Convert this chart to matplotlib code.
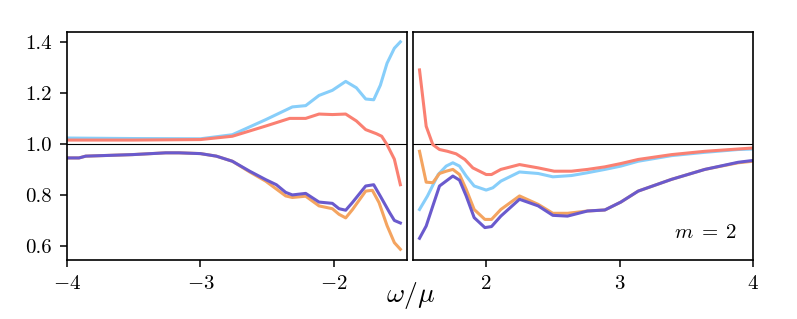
import matplotlib
matplotlib.use("Agg")
import matplotlib.pyplot as plt

plt.rcParams["mathtext.fontset"] = "cm"
plt.rcParams["font.family"] = "serif"
plt.rcParams["font.serif"] = ["cmr10"]
plt.rcParams["axes.formatter.use_mathtext"] = True

# left panel (negative frequencies)
x_blue_l = [-4.0, -3.5, -3.0, -2.76, -2.51, -2.31, -2.21, -2.11, -2.01, -1.91, -1.83, -1.76, -1.70, -1.65, -1.60, -1.545, -1.5]
y_blue_l = [1.023, 1.021, 1.02, 1.036, 1.095, 1.145, 1.15, 1.19, 1.21, 1.245, 1.22, 1.176, 1.173, 1.23, 1.316, 1.375, 1.40]

x_red_l = [-4.0, -3.5, -3.0, -2.76, -2.51, -2.33, -2.21, -2.11, -2.01, -1.91, -1.83, -1.76, -1.68, -1.64, -1.60, -1.545, -1.5]
y_red_l = [1.015, 1.015, 1.017, 1.03, 1.07, 1.10, 1.10, 1.117, 1.115, 1.117, 1.09, 1.056, 1.04, 1.03, 0.997, 0.94, 0.84]

x_pur_l = [-4.0, -3.91, -3.86, -3.51, -3.26, -3.16, -3.0, -2.88, -2.76, -2.63, -2.51, -2.43, -2.36, -2.31, -2.21, -2.11, -2.01, -1.96, -1.91, -1.86, -1.76, -1.70, -1.65, -1.58, -1.545, -1.5]
y_pur_l = [0.945, 0.945, 0.952, 0.958, 0.965, 0.965, 0.962, 0.952, 0.932, 0.893, 0.86, 0.84, 0.81, 0.80, 0.806, 0.772, 0.767, 0.746, 0.74, 0.77, 0.835, 0.84, 0.795, 0.73, 0.70, 0.69]

x_orn_l = [-4.0, -3.91, -3.86, -3.51, -3.26, -3.16, -3.0, -2.88, -2.76, -2.63, -2.51, -2.36, -2.31, -2.21, -2.11, -2.01, -1.96, -1.91, -1.86, -1.76, -1.71, -1.66, -1.60, -1.545, -1.5]
y_orn_l = [0.945, 0.945, 0.952, 0.958, 0.965, 0.965, 0.962, 0.952, 0.932, 0.89, 0.854, 0.796, 0.79, 0.795, 0.757, 0.746, 0.724, 0.71, 0.742, 0.815, 0.818, 0.77, 0.68, 0.613, 0.587]

# right panel (positive frequencies)
x_red_r = [1.5, 1.55, 1.6, 1.65, 1.71, 1.775, 1.84, 1.9, 2.0, 2.04, 2.11, 2.25, 2.39, 2.51, 2.64, 2.76, 2.89, 3.01, 3.14, 3.39, 3.64, 3.89, 4.0]
y_red_r = [1.29, 1.069, 0.997, 0.978, 0.971, 0.961, 0.939, 0.906, 0.88, 0.88, 0.90, 0.919, 0.906, 0.893, 0.893, 0.90, 0.91, 0.923, 0.939, 0.958, 0.971, 0.98, 0.984]

x_blue_r = [1.5, 1.56, 1.64, 1.7, 1.75, 1.8, 1.85, 1.91, 2.0, 2.05, 2.11, 2.25, 2.39, 2.5, 2.64, 2.76, 2.89, 3.01, 3.14, 3.39, 3.64, 3.89, 4.0]
y_blue_r = [0.743, 0.796, 0.88, 0.913, 0.926, 0.913, 0.874, 0.835, 0.819, 0.828, 0.854, 0.89, 0.884, 0.871, 0.876, 0.887, 0.90, 0.913, 0.932, 0.954, 0.967, 0.978, 0.98]

x_orn_r = [1.5, 1.55, 1.6, 1.65, 1.7, 1.75, 1.8, 1.85, 1.91, 1.99, 2.04, 2.11, 2.25, 2.39, 2.5, 2.61, 2.76, 2.89, 3.01, 3.14, 3.39, 3.64, 3.89, 4.0]
y_orn_r = [0.971, 0.85, 0.848, 0.884, 0.893, 0.90, 0.88, 0.822, 0.743, 0.704, 0.704, 0.743, 0.796, 0.763, 0.728, 0.728, 0.737, 0.741, 0.772, 0.815, 0.861, 0.90, 0.926, 0.932]

x_pur_r = [1.5, 1.55, 1.6, 1.65, 1.75, 1.8, 1.85, 1.91, 1.99, 2.04, 2.11, 2.25, 2.39, 2.5, 2.61, 2.76, 2.89, 3.01, 3.14, 3.39, 3.64, 3.89, 4.0]
y_pur_r = [0.63, 0.678, 0.757, 0.835, 0.874, 0.858, 0.796, 0.711, 0.672, 0.676, 0.717, 0.783, 0.757, 0.72, 0.717, 0.737, 0.741, 0.772, 0.815, 0.861, 0.90, 0.928, 0.935]

C_BLUE = "#87cefa"
C_RED = "#fa8072"
C_ORN = "#f4a460"
C_PUR = "#6a5acd"
LW = 2.2

fig = plt.figure(figsize=(7.97, 3.19), dpi=100)
ax1 = fig.add_axes([0.0841, 0.185, 0.4266, 0.715])
ax2 = fig.add_axes([0.518, 0.185, 0.4266, 0.715])

for ax in (ax1, ax2):
    ax.axhline(1.0, color="black", lw=0.8, zorder=1)
    ax.set_ylim(0.545, 1.439)
    for s in ax.spines.values():
        s.set_linewidth(1.2)
    ax.tick_params(direction="out", length=5, width=1.1, labelsize=15, pad=6)

ax1.plot(x_blue_l, y_blue_l, color=C_BLUE, lw=LW)
ax1.plot(x_red_l, y_red_l, color=C_RED, lw=LW)
ax1.plot(x_orn_l, y_orn_l, color=C_ORN, lw=LW)
ax1.plot(x_pur_l, y_pur_l, color=C_PUR, lw=LW)

ax2.plot(x_blue_r, y_blue_r, color=C_BLUE, lw=LW)
ax2.plot(x_red_r, y_red_r, color=C_RED, lw=LW)
ax2.plot(x_orn_r, y_orn_r, color=C_ORN, lw=LW)
ax2.plot(x_pur_r, y_pur_r, color=C_PUR, lw=LW)

ax1.set_xlim(-4.0, -1.45)
ax1.set_xticks([-4, -3, -2])
ax1.set_yticks([0.6, 0.8, 1.0, 1.2, 1.4])
ax1.set_yticklabels(["0.6", "0.8", "1.0", "1.2", "1.4"])

ax2.set_xlim(1.45, 4.0)
ax2.set_xticks([2, 3, 4])
ax2.set_yticks([])

ax2.text(0.953, 0.118, r"$m\;=\;2$", transform=ax2.transAxes, ha="right",
         va="center", fontsize=15)

fig.text(0.515, 0.075, r"$\omega/\mu$", ha="center", va="center", fontsize=20)

fig.savefig("out.png", dpi=100)
